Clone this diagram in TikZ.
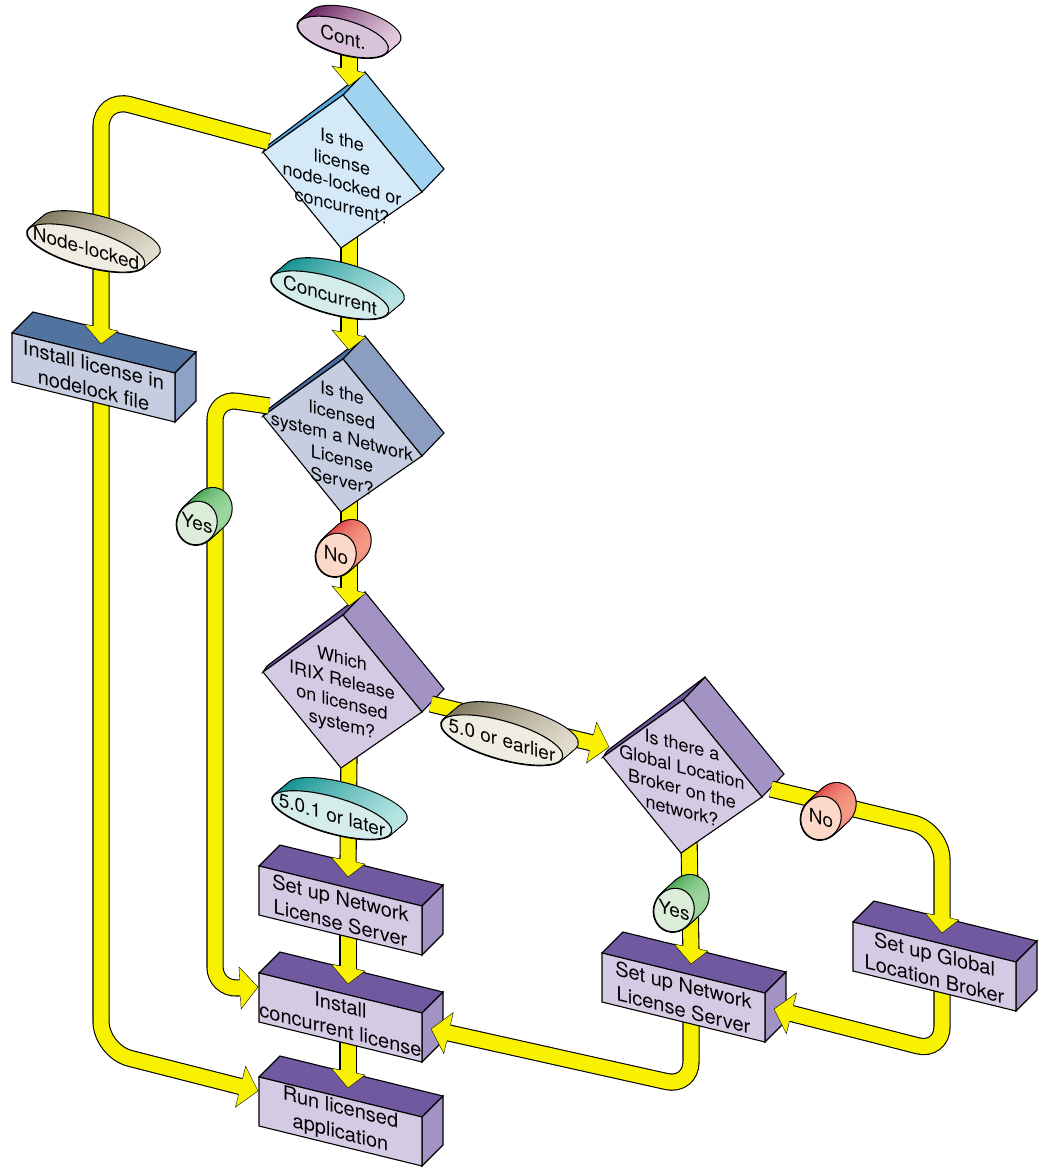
\documentclass[tikz,border=0pt]{standalone}
\usepackage{fontspec}
\setmainfont{TeX Gyre Heros}
\usetikzlibrary{calc}

\definecolor{flowyellow}{RGB}{248,242,0}
\definecolor{d1front}{RGB}{213,234,248}
\definecolor{d1side}{RGB}{159,211,240}
\definecolor{d1edge}{RGB}{80,170,225}
\definecolor{d2front}{RGB}{198,205,225}
\definecolor{d2side}{RGB}{139,158,194}
\definecolor{d2edge}{RGB}{74,108,160}
\definecolor{pfront}{RGB}{212,202,228}
\definecolor{pside}{RGB}{163,146,196}
\definecolor{pedge}{RGB}{108,86,156}
\definecolor{ptop}{RGB}{112,89,158}
\definecolor{b1top}{RGB}{82,114,160}
\definecolor{b1front}{RGB}{198,205,225}
\definecolor{b1side}{RGB}{142,161,198}
\definecolor{contfront}{RGB}{217,195,218}
\definecolor{contdark}{RGB}{94,17,82}
\definecolor{contlight}{RGB}{232,210,228}
\definecolor{beigefront}{RGB}{239,236,226}
\definecolor{beigedark}{RGB}{125,115,90}
\definecolor{beigelight}{RGB}{228,223,208}
\definecolor{tealfront}{RGB}{212,237,235}
\definecolor{tealdark}{RGB}{8,142,142}
\definecolor{teallight}{RGB}{190,232,230}
\definecolor{redfront}{RGB}{252,216,200}
\definecolor{reddark}{RGB}{214,34,46}
\definecolor{redlight}{RGB}{246,164,140}
\definecolor{greenfront}{RGB}{220,238,218}
\definecolor{greendark}{RGB}{31,143,51}
\definecolor{greenlight}{RGB}{169,220,168}

\pgfdeclarelayer{back}
\pgfsetlayers{back,main}

\tikzset{flow/.style={double=flowyellow,double distance=15pt,line width=1.1pt},
  boxtext/.style={font=\fontsize{20}{25}\selectfont,align=center,inner sep=0pt,yslant=-0.25},
  qtext/.style={font=\fontsize{18}{22}\selectfont,align=center,inner sep=0pt,yslant=-0.26},
  tagtext/.style={font=\fontsize{19}{20}\selectfont,inner sep=0pt,yslant=-0.29},
  dhead/.pic={\filldraw[fill=flowyellow] (-8.6,-18.2) -- (-17,-20) -- (0,0) -- (17,-13) -- (8.6,-14.8);},
  ahead/.pic={\filldraw[fill=flowyellow] (-18,-8.6) -- (-18,-21) -- (0,0) -- (-18,21) -- (-18,8.6);}}

% decision: name, centre, front, side, edge, text
\newcommand{\decision}[6]{%
  \begin{scope}[shift={(#2)}]
    \filldraw[fill=#4] (1,-77) -- (23,-100) -- (102,-3) -- (80,20) -- cycle;
    \filldraw[fill=#5] (-79,-20) -- (-75,-26) -- (23,-100) -- (1,-77) -- cycle;
    \filldraw[fill=#3] (-79,-20) -- (1,-77) -- (80,20) -- (-1,76) -- cycle;
    \node[qtext] (#1) at (0,1) {#6};
    \coordinate (#1-in) at (7,-86);
    \coordinate (#1-out) at (7,60);
    \coordinate (#1-w) at (-73,-30);
    \coordinate (#1-e) at (89,12);
  \end{scope}}

% process: name, corner, top, front, side, text
\newcommand{\process}[6]{%
  \begin{scope}[shift={(#2)}]
    \filldraw[fill=#3] (0,0) -- (21,-21) -- (184,19) -- (163,40) -- cycle;
    \filldraw[fill=#5] (163,40) -- (184,19) -- (184,68) -- (163,89) -- cycle;
    \filldraw[fill=#4] (0,0) -- (163,40) -- (163,89) -- (0,49) -- cycle;
    \node[boxtext] (#1) at (81.5,44.5) {#6};
    \coordinate (#1-in) at (89,11);
    \coordinate (#1-out) at (89,55);
    \coordinate (#1-w) at (-1,14);
    \coordinate (#1-e) at (172,56);
  \end{scope}}

% tag: step, name, centre, radii, turn, front, dark, light, text
\newcommand{\ovaltag}[9][1.25,-1.05]{%
  \begin{scope}[shift={(#3)}]
    \foreach \k in {12,11,...,0}
      \draw[line width=2.2pt,shift={($\k*(#1)$)},rotate=#5] (0,0) ellipse (#4);
    \foreach \k in {12,11,...,0}
      \shade[left color=#7,right color=#8,shift={($\k*(#1)$)},rotate=#5] (0,0) ellipse (#4);
    \filldraw[fill=#6,rotate=#5] (0,0) ellipse (#4);
    \node[tagtext] (#2) at (0,0) {#9};
  \end{scope}}

\begin{document}
\begin{tikzpicture}[x=1pt,y=-1pt,line width=1.1pt]
  \useasboundingbox (0,0) rectangle (1044,1168);

  \decision{qtype}{342,172}{d1front}{d1side}{d1edge}{Is the\\license\\node-locked or\\concurrent?}
  \decision{qserver}{342,436}{d2front}{d2side}{d2edge}{Is the\\licensed\\system a Network\\License\\Server?}
  \decision{qirix}{342,692}{pfront}{pside}{pedge}{Which\\IRIX Release\\on licensed\\system?}
  \decision{qglb}{682,777}{pfront}{pside}{pedge}{Is there a\\Global Location\\Broker on the\\network?}

  \process{nodelock}{12,333}{b1top}{b1front}{b1side}{Install license in\\nodelock file}
  \process{setnls}{259,866}{ptop}{pfront}{pside}{Set up Network\\License Server}
  \process{instconc}{259,973}{ptop}{pfront}{pside}{Install\\concurrent license}
  \process{runapp}{259,1077}{ptop}{pfront}{pside}{Run licensed\\application}
  \process{setnlsb}{602,953}{ptop}{pfront}{pside}{Set up Network\\License Server}
  \process{setglb}{853,922}{ptop}{pfront}{pside}{Set up Global\\Location Broker}

  % bends of the long arrows
  \coordinate (knode) at (101,97);
  \coordinate (kyes1) at (215,398);
  \coordinate (kyes2) at (215,989);
  \coordinate (kbl) at (101,1051);
  \coordinate (kno) at (942,830);
  \coordinate (kglb) at (942,1052);
  \coordinate (knls) at (691,1087);

  % arrows leaving a side
  \draw[flow,rounded corners=30pt] (qtype-w) -- (knode) -- ($(nodelock-in)+(0,-11)$);
  \draw[flow,rounded corners=22pt] (qserver-w) -- (kyes1) -- (kyes2) -- ($(instconc-w)!8pt!(kyes2)$);
  \draw[flow] (qirix-e) -- ($(qglb-w)!8pt!(qirix-e)$);
  \draw[flow,rounded corners=30pt] (qglb-e) -- (kno) -- ($(setglb-in)+(0,-11)$);

  \ovaltag[1,-0.85]{cont}{343,37}{47pt and 17pt}{-16}{contfront}{contdark}{contlight}{Cont.}
  \ovaltag{tnode}{86,248}{61pt and 18pt}{-16}{beigefront}{beigedark}{beigelight}{Node-locked}
  \ovaltag{tconc}{330,295}{61pt and 18pt}{-16}{tealfront}{tealdark}{teallight}{Concurrent}
  \ovaltag{tearly}{502,740}{63pt and 19pt}{-16}{beigefront}{beigedark}{beigelight}{5.0 or earlier}
  \ovaltag{tlate}{332,815}{62pt and 18pt}{-16}{tealfront}{tealdark}{teallight}{5.0.1 or later}
  \ovaltag[1.2,-1.1]{noa}{336,555}{20pt and 22pt}{-20}{redfront}{reddark}{redlight}{No}
  \ovaltag[1.2,-1.1]{yesa}{197,523}{20pt and 22pt}{-20}{greenfront}{greendark}{greenlight}{Yes}
  \ovaltag[1.2,-1.1]{nob}{821,818}{20pt and 22pt}{-20}{redfront}{reddark}{redlight}{No}
  \ovaltag[1.2,-1.1]{yesb}{674,910}{20pt and 22pt}{-20}{greenfront}{greendark}{greenlight}{Yes}

  % arrows leaving a bottom, behind the shapes
  \begin{pgfonlayer}{back}
    \draw[flow] (qtype-in |- cont.center) -- ($(qtype-in)+(0,-11)$);
    \draw[flow] (qtype-out) -- ($(qserver-in)+(0,-11)$);
    \draw[flow] (qserver-out) -- ($(qirix-in)+(0,-11)$);
    \draw[flow] (qirix-out) -- ($(setnls-in)+(0,-11)$);
    \draw[flow] (setnls-out) -- ($(instconc-in)+(0,-11)$);
    \draw[flow] (instconc-out) -- ($(runapp-in)+(0,-11)$);
    \draw[flow,rounded corners=30pt] (nodelock-out) -- (kbl) -- ($(runapp-w)!8pt!(kbl)$);
    \draw[flow] (qglb-out) -- ($(setnlsb-in)+(0,-11)$);
    \draw[flow,rounded corners=25pt] (setglb-out) -- (kglb) -- ($(setnlsb-e)!8pt!(kglb)$);
    \draw[flow,rounded corners=25pt] (setnlsb-out) -- (knls) -- ($(instconc-e)!8pt!(knls)$);
  \end{pgfonlayer}

  % arrow heads
  \foreach \n in {qtype,qserver,qirix,nodelock,setnls,instconc,runapp,setnlsb,setglb}
    \pic at (\n-in) {dhead};
  \pic[rotate=3] at (instconc-w) {ahead};
  \pic[rotate=-14] at (runapp-w) {ahead};
  \pic[rotate=-14] at (qglb-w) {ahead};
  \pic[rotate=167] at (instconc-e) {ahead};
  \pic[rotate=166] at (setnlsb-e) {ahead};
\end{tikzpicture}
\end{document}
